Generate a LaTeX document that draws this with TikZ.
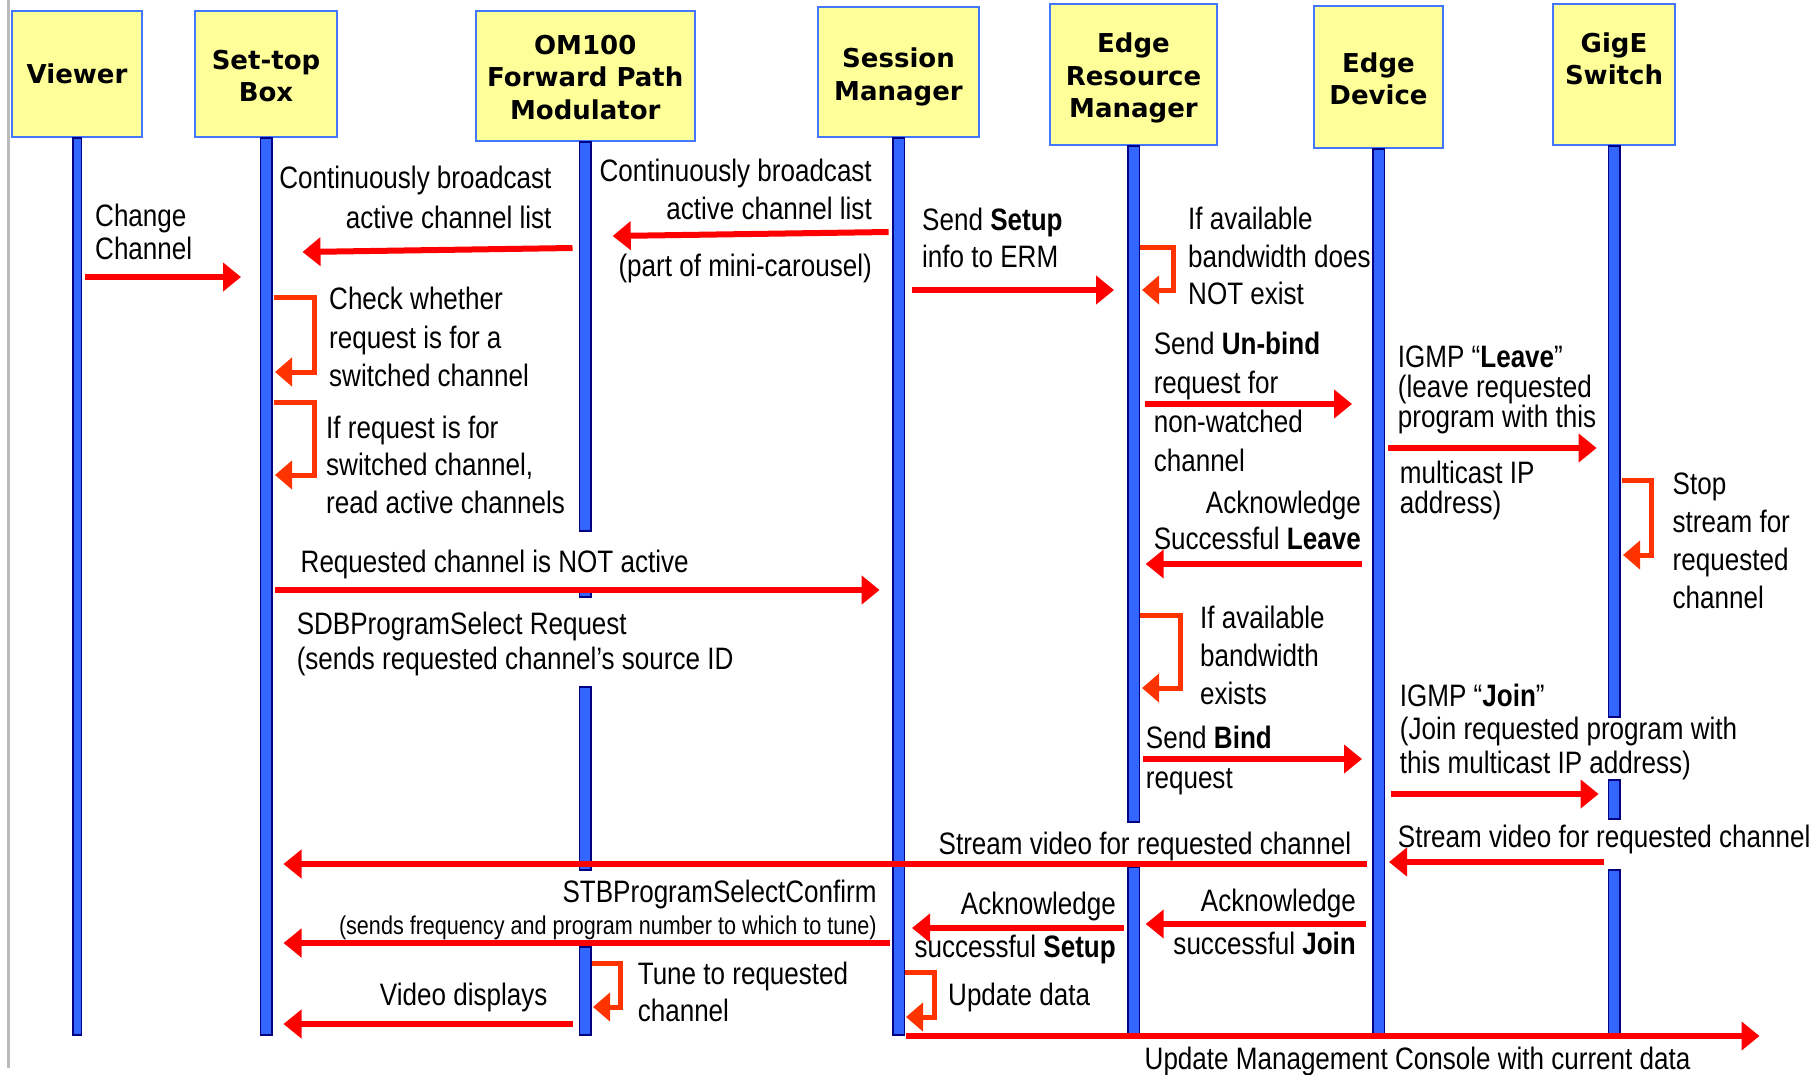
\documentclass[tikz,border=0pt]{standalone}
\usepackage{fontspec}
\setmainfont{Liberation Sans}[FakeStretch=0.84]
\newfontfamily\titlefont{DejaVu Sans}
\usetikzlibrary{arrows.meta,calc}

\definecolor{boxfill}{HTML}{FFFF99}
\definecolor{boxline}{HTML}{4477FF}
\definecolor{lifefill}{HTML}{3366FF}
\definecolor{lifeedge}{HTML}{000080}
\definecolor{msgred}{HTML}{FF0000}
\definecolor{looporange}{HTML}{FF3300}
\definecolor{edgegray}{HTML}{BBBBBB}

% one piece of a lifeline: node, top y, bottom y, half width
\newcommand\lifebar[4]{%
  \draw[life] ($(#1.south |- 0,#2)+(-#4,0)$) rectangle ($(#1.south |- 0,#3)+(#4,0)$);}

\begin{document}
\begin{tikzpicture}[x=1pt,y=-1pt,
  actor/.style={draw=boxline, line width=2.5pt, fill=boxfill, inner sep=0pt},
  actortext/.style={font=\titlefont\bfseries\fontsize{26}{32.5}\selectfont, align=center, inner sep=0pt},
  life/.style={fill=lifefill, draw=lifeedge, line width=1.5pt},
  msg/.style={draw=msgred, line width=6pt, -{Triangle[length=18pt,width=28pt]}},
  selfmsg/.style={draw=looporange, line width=5pt, -{Triangle[length=17pt,width=28pt]}},
  lbl/.style={inner sep=0pt, align=left, font=\fontsize{31}{#1}\selectfont},
  lbl/.default=38,
  lblr/.style={lbl=#1, align=right},
  lblr/.default=38,
  small/.style={inner sep=0pt, font=\fontsize{25.7}{30}\selectfont},
]
\useasboundingbox (0,0) rectangle (1820,1074);

% page edge rule
\draw[edgegray, line width=2.5pt] (8.3,0) -- (8.3,1068);

% participants
\node[actor, minimum width=130, minimum height=126] (viewer) at (77,74) {};
\node[actor, minimum width=142, minimum height=126] (stb) at (266,74) {};
\node[actor, minimum width=219, minimum height=130] (om) at (585.25,76) {};
\node[actor, minimum width=161, minimum height=130] (sm) at (898.5,72) {};
\node[actor, minimum width=167, minimum height=141] (erm) at (1133.5,74.5) {};
\node[actor, minimum width=129, minimum height=142] (ed) at (1378.5,77) {};
\node[actor, minimum width=122, minimum height=141] (gige) at (1614,74.5) {};

% lifelines
\lifebar{viewer}{138}{1035}{4.25}
\lifebar{stb}{138}{1035}{5.75}
\lifebar{om}{142}{531}{5.75}
\lifebar{om}{589}{597}{5.75}
\lifebar{om}{687}{870}{5.75}
\lifebar{om}{947}{1035}{5.75}
\lifebar{sm}{138}{1035}{5.75}
\lifebar{erm}{146}{822}{5.75}
\lifebar{erm}{867}{1034}{5.75}
\lifebar{ed}{149}{1034}{5.75}
\lifebar{gige}{146}{717}{5.75}
\lifebar{gige}{780}{819}{5.75}
\lifebar{gige}{870}{1034}{5.75}

% participant names
\node[actortext] (viewerT) at (77,74) {Viewer};
\node[actortext] (stbT) at (266,76) {Set-top\\Box};
\node[actortext] (omT) at (585.25,77.5) {OM100\\Forward Path\\Modulator};
\node[actortext] (smT) at (898.5,76.75) {Session\\Manager};
\node[actortext] (ermT) at (1133.5,78.25) {Edge\\Resource\\Manager};
\node[actortext] (edT) at (1378.5,79) {Edge\\Device};
\node[actortext] (gigeT) at (1614,59) {GigE\\Switch};

% message end points
\coordinate (m1a) at (85,277);      \coordinate (m1b) at (241,277);
\coordinate (m2a) at (572.5,248);   \coordinate (m2b) at (302.5,252);
\coordinate (m3a) at (888.6,232);   \coordinate (m3b) at (612.7,236);
\coordinate (m4a) at (912,290);     \coordinate (m4b) at (1114,290);
\coordinate (m5a) at (1145,404);    \coordinate (m5b) at (1352,404);
\coordinate (m6a) at (1362,564);    \coordinate (m6b) at (1145.7,564);
\coordinate (m7a) at (1388,448);    \coordinate (m7b) at (1596.6,448);
\coordinate (m8a) at (275,590);     \coordinate (m8b) at (879.6,590);
\coordinate (m9a) at (1142.5,759);  \coordinate (m9b) at (1362,759);
\coordinate (m10a) at (1390.6,794); \coordinate (m10b) at (1598.6,794);
\coordinate (m11a) at (1604,862);   \coordinate (m11b) at (1389,862);
\coordinate (m12a) at (1367,864);   \coordinate (m12b) at (283.5,864);
\coordinate (m13a) at (890,943);    \coordinate (m13b) at (283.5,943);
\coordinate (m14a) at (1124,928);   \coordinate (m14b) at (912,928);
\coordinate (m15a) at (1366,924);   \coordinate (m15b) at (1145.7,924);
\coordinate (m16a) at (572.5,1024); \coordinate (m16b) at (283.5,1024);
\coordinate (m17a) at (906,1036);   \coordinate (m17b) at (1759.5,1036);

% self-message corners
\coordinate (s1a) at (273.6,297);  \coordinate (s1b) at (314,372);   \coordinate (s1c) at (275,372);
\coordinate (s2a) at (273.6,402);  \coordinate (s2b) at (314,475);   \coordinate (s2c) at (275,475);
\coordinate (s3a) at (1140,247);   \coordinate (s3b) at (1173,290);  \coordinate (s3c) at (1142,290);
\coordinate (s4a) at (1622,480);   \coordinate (s4b) at (1651.5,555); \coordinate (s4c) at (1623,555);
\coordinate (s5a) at (1140,615);   \coordinate (s5b) at (1180.5,688); \coordinate (s5c) at (1142,688);
\coordinate (s6a) at (592,963);    \coordinate (s6b) at (620,1007);  \coordinate (s6c) at (593,1007);
\coordinate (s7a) at (905,972);    \coordinate (s7b) at (934,1017);  \coordinate (s7c) at (906,1017);

% messages
\foreach \m in {1,...,17} \draw[msg] (m\m a) -- (m\m b);

% self messages
\foreach \s in {1,...,7} \draw[selfmsg] (s\s a) -| (s\s b) -- (s\s c);

% labels
\node[lbl=33, anchor=west] (t1) at (95,231.5) {Change\\Channel};
\node[lblr=40, anchor=east] (t2) at (551.6,197) {Continuously broadcast\\active channel list};
\node[lblr=38, anchor=east] (t3) at (872,189) {Continuously broadcast\\active channel list};
\node[lbl, anchor=east] (t3b) at (872,268.5) {(part of mini-carousel)};
\node[lbl=37, anchor=west] (t4) at (922,238) {Send \textbf{Setup}\\info to ERM};
\node[lbl=37.5, anchor=west] (t5) at (1188,256) {If available\\bandwidth does\\NOT exist};
\node[lbl=39, anchor=west] (t6) at (1153.6,401.5) {Send \textbf{Un-bind}\\request for\\non-watched\\channel};
\node[lblr=36, anchor=east] (t7) at (1361,520) {Acknowledge\\Successful \textbf{Leave}};
\node[lbl=30, anchor=west] (t8) at (1397.7,389.5) {IGMP “\textbf{Leave}”\\(leave requested\\program with this};
\node[lbl=30, anchor=west] (t8b) at (1399.7,490.5) {multicast IP\\address)};
\node[lbl=38, anchor=west] (t9) at (1672.5,540.5) {Stop\\stream for\\requested\\channel};
\node[lbl, anchor=west] (t10) at (300.5,564.5) {Requested channel is NOT active};
\node[lbl=35, anchor=west] (t11) at (296.6,644) {SDBProgramSelect Request\\(sends requested channel’s source ID};
\node[lbl=38.5, anchor=west] (t12) at (329,337) {Check whether\\request is for a\\switched channel};
\node[lbl=37.5, anchor=west] (t13) at (326,464.5) {If request is for\\switched channel,\\read active channels};
\node[lbl=38, anchor=west] (t14) at (1200,655) {If available\\bandwidth\\exists};
\node[lbl=40, anchor=west] (t15) at (1145.7,760.5) {Send \textbf{Bind}\\request};
\node[lbl=33.5, anchor=west] (t16) at (1399.7,731.5) {IGMP “\textbf{Join}”\\(Join requested program with\\this multicast IP address)};
\node[lbl, anchor=west] (t17) at (1397.7,839.5) {Stream video for requested channel};
\node[lbl, anchor=east] (t18) at (1351.4,846.5) {Stream video for requested channel};
\node[lbl, anchor=east] (t19) at (876.8,894) {STBProgramSelectConfirm};
\node[small, anchor=east] (t19b) at (876.8,928) {(sends frequency and program number to which to tune)};
\node[lblr=43, anchor=east] (t20) at (1116,928) {Acknowledge\\successful \textbf{Setup}};
\node[lblr=43, anchor=east] (t21) at (1356,921.5) {Acknowledge\\successful \textbf{Join}};
\node[lbl=37, anchor=west] (t22) at (637.6,991.5) {Tune to requested\\channel};
\node[lbl, anchor=east] (t23) at (547.6,997) {Video displays};
\node[lbl, anchor=west] (t24) at (948,997) {Update data};
\node[lbl, anchor=west] (t25) at (1144.5,1061) {Update Management Console with current data};
\end{tikzpicture}
\end{document}
